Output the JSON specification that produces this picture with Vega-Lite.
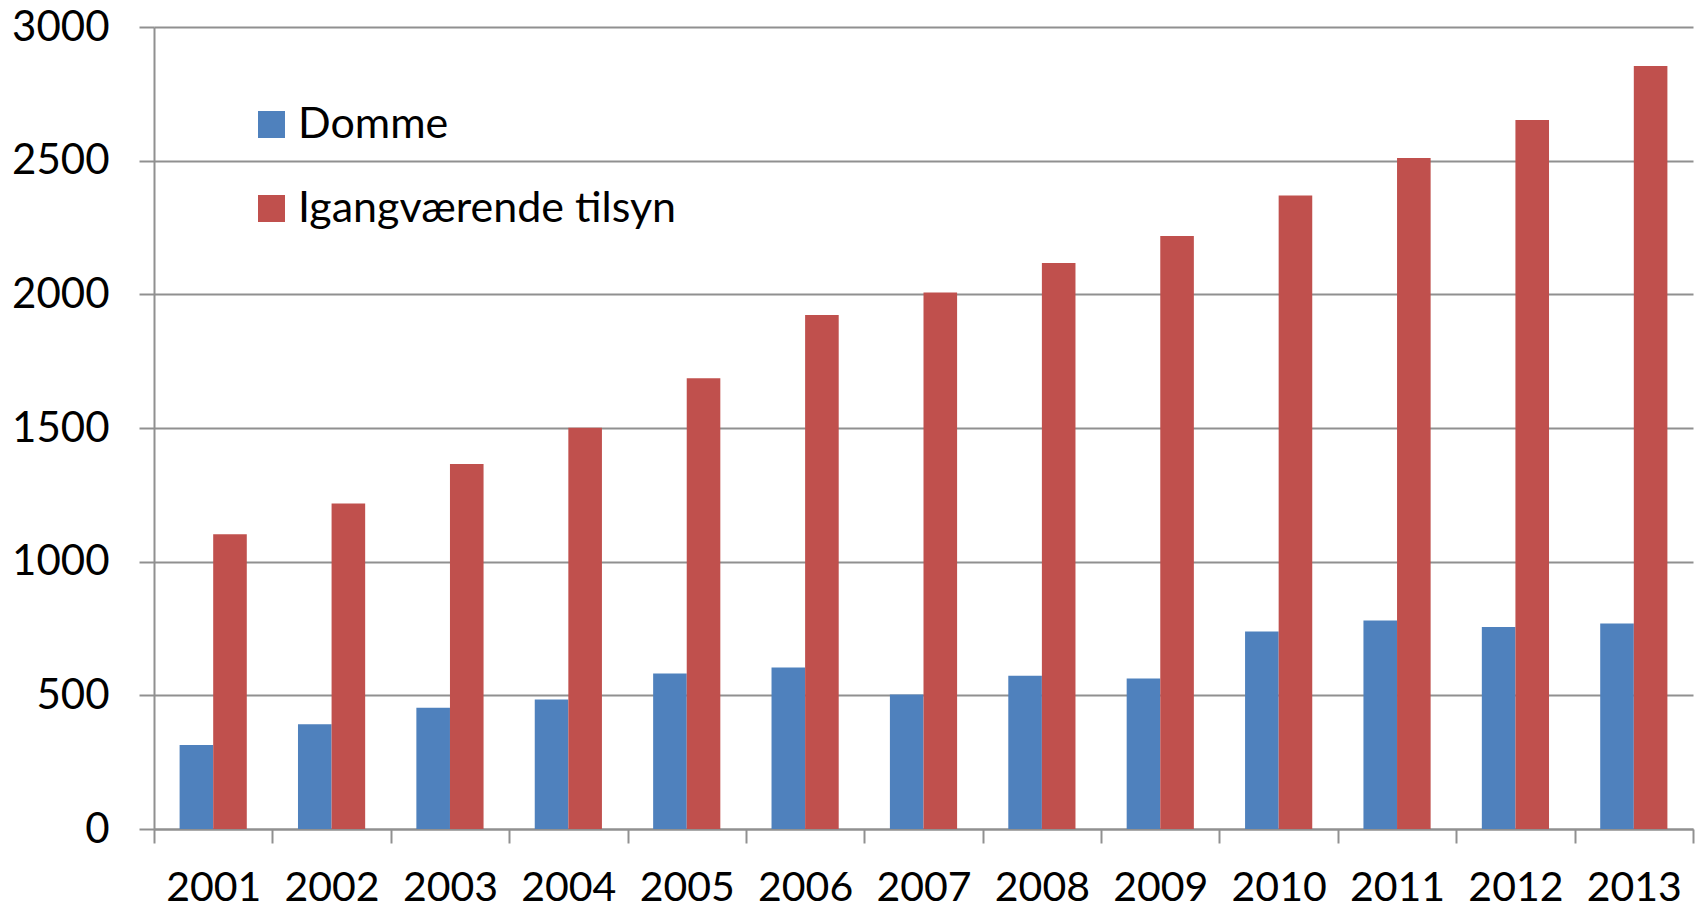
{
  "$schema": "https://vega.github.io/schema/vega-lite/v6.json",
  "autosize": "none",
  "width": 1539,
  "height": 802,
  "padding": {"left": 154, "top": 27, "right": 9, "bottom": 81},
  "background": "white",
  "data": {
    "values": [
      {"year": "2001", "series": "Domme", "value": 314},
      {"year": "2002", "series": "Domme", "value": 392},
      {"year": "2003", "series": "Domme", "value": 454},
      {"year": "2004", "series": "Domme", "value": 484},
      {"year": "2005", "series": "Domme", "value": 582},
      {"year": "2006", "series": "Domme", "value": 604},
      {"year": "2007", "series": "Domme", "value": 503},
      {"year": "2008", "series": "Domme", "value": 573},
      {"year": "2009", "series": "Domme", "value": 563},
      {"year": "2010", "series": "Domme", "value": 739},
      {"year": "2011", "series": "Domme", "value": 780},
      {"year": "2012", "series": "Domme", "value": 756},
      {"year": "2013", "series": "Domme", "value": 769},
      {"year": "2001", "series": "Igangværende tilsyn", "value": 1103},
      {"year": "2002", "series": "Igangværende tilsyn", "value": 1218},
      {"year": "2003", "series": "Igangværende tilsyn", "value": 1365},
      {"year": "2004", "series": "Igangværende tilsyn", "value": 1501},
      {"year": "2005", "series": "Igangværende tilsyn", "value": 1686},
      {"year": "2006", "series": "Igangværende tilsyn", "value": 1923},
      {"year": "2007", "series": "Igangværende tilsyn", "value": 2007},
      {"year": "2008", "series": "Igangværende tilsyn", "value": 2117},
      {"year": "2009", "series": "Igangværende tilsyn", "value": 2218},
      {"year": "2010", "series": "Igangværende tilsyn", "value": 2370},
      {"year": "2011", "series": "Igangværende tilsyn", "value": 2510},
      {"year": "2012", "series": "Igangværende tilsyn", "value": 2652},
      {"year": "2013", "series": "Igangværende tilsyn", "value": 2854}
    ]
  },
  "mark": {"type": "bar"},
  "encoding": {
    "x": {
      "field": "year",
      "type": "nominal",
      "scale": {"paddingInner": 0, "paddingOuter": 0},
      "axis": {
        "title": null,
        "labelAngle": 0,
        "labelFont": "Lato",
        "labelFontSize": 41,
        "labelColor": "black",
        "labelPadding": 25,
        "tickBand": "extent",
        "tickSize": 14,
        "tickColor": "#909090",
        "tickWidth": 2,
        "domainColor": "#909090",
        "domainWidth": 2,
        "grid": false
      }
    },
    "xOffset": {
      "field": "series",
      "type": "nominal",
      "scale": {"paddingInner": 0, "paddingOuter": 0.762}
    },
    "y": {
      "field": "value",
      "type": "quantitative",
      "scale": {"domain": [0, 3000], "nice": false},
      "axis": {
        "title": null,
        "values": [0, 500, 1000, 1500, 2000, 2500, 3000],
        "format": "d",
        "labelFont": "Lato",
        "labelFontSize": 42,
        "labelColor": "black",
        "labelPadding": 30,
        "tickSize": 15,
        "tickColor": "#909090",
        "tickWidth": 2,
        "domainColor": "#909090",
        "domainWidth": 2,
        "grid": true,
        "gridColor": "#909090",
        "gridWidth": 2
      }
    },
    "color": {
      "field": "series",
      "type": "nominal",
      "scale": {"domain": ["Domme", "Igangværende tilsyn"], "range": ["#4F81BD", "#C0504D"]},
      "legend": {
        "title": null,
        "orient": "none",
        "legendX": 96,
        "legendY": 76,
        "symbolType": "square",
        "symbolSize": 729,
        "symbolStrokeWidth": 0,
        "symbolOpacity": 1,
        "labelFont": "Lato",
        "labelFontSize": 43,
        "labelColor": "black",
        "labelOffset": 5,
        "rowPadding": 40,
        "labelLimit": 700
      }
    }
  },
  "config": {"view": {"stroke": null}}
}
